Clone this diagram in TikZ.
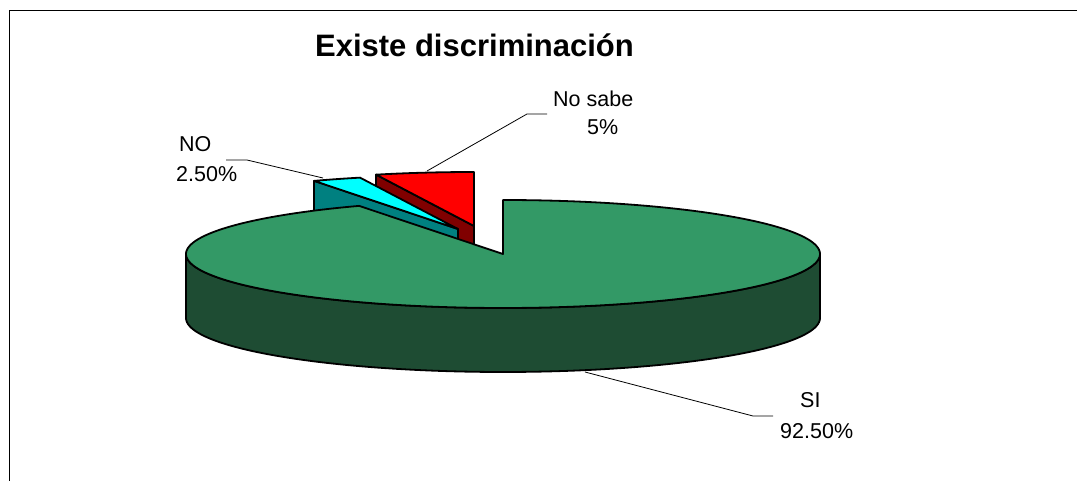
\documentclass[tikz,border=0pt]{standalone}
\usepackage{fontspec}
\setmainfont{Liberation Sans}
\definecolor{gtop}{RGB}{51,153,102}
\definecolor{gside}{RGB}{30,76,51}
\definecolor{nocyan}{RGB}{0,255,255}
\definecolor{noteal}{RGB}{0,128,128}
\definecolor{nsred}{RGB}{255,0,0}
\definecolor{nsdark}{RGB}{128,0,0}
\tikzset{
  face/.style={draw=black,line width=1.8pt,line join=round},
  leader/.style={draw=black,line width=0.8pt},
  lbl/.style={inner sep=0pt,anchor=base west,font=\fontsize{21.5}{24}\selectfont}
}
\begin{document}
\begin{tikzpicture}[x=1pt,y=-1pt]
\useasboundingbox (0,0) rectangle (1077,481);
% frame
\draw[line width=1.5pt] (9.5,481) -- (9.5,10.5) -- (1077,10.5);
% title
\node[inner sep=0pt,anchor=base,font=\bfseries\fontsize{31}{36}\selectfont] (title) at (474.5,57) {Existe discriminación};
% pie parameters
\def\cx{503}\def\cy{254}\def\rx{317}\def\ry{54}\def\dd{64}
% green front side
\path[face,fill=gside] plot[domain=180:360,samples=120] ({\cx+\rx*cos(\x)},{\cy-\ry*sin(\x)})
  -- plot[domain=360:180,samples=120] ({\cx+\rx*cos(\x)},{\cy+\dd-\ry*sin(\x)}) -- cycle;
% No sabe slice (exploded)
\def\bx{474}\def\by{226}
\path[face,fill=nsdark] (\bx,\by) -- ({\bx+\rx*cos(108)},{\by-\ry*sin(108)})
  -- ({\bx+\rx*cos(108)},{\by+\dd-\ry*sin(108)}) -- (\bx,\by+\dd) -- cycle;
\path[face,fill=nsred] (\bx,\by) -- plot[domain=90:108,samples=30] ({\bx+\rx*cos(\x)},{\by-\ry*sin(\x)}) -- cycle;
% NO slice (exploded)
\def\ax{458}\def\ay{229}
\path[face,fill=noteal] (\ax,\ay) -- ({\ax+\rx*cos(117)},{\ay-\ry*sin(117)})
  -- ({\ax+\rx*cos(117)},{\ay+\dd-\ry*sin(117)}) -- (\ax,\ay+\dd) -- cycle;
\path[face,fill=nocyan] (\ax,\ay) -- plot[domain=108:117,samples=20] ({\ax+\rx*cos(\x)},{\ay-\ry*sin(\x)}) -- cycle;
% green top (SI)
\path[face,fill=gtop] (\cx,\cy) -- plot[domain=117:450,samples=300] ({\cx+\rx*cos(\x)},{\cy-\ry*sin(\x)}) -- cycle;
% labels
\node[lbl] (no) at (179,152) {NO};
\node[lbl] (nop) at (176,182) {2.50\%};
\node[lbl] (ns) at (553,107) {No sabe};
\node[lbl] (nsp) at (587,135) {5\%};
\node[lbl] (si) at (800,407) {SI};
\node[lbl] (sip) at (780,438) {92.50\%};
% leader lines
\coordinate (noA) at (226,160); \coordinate (noB) at (247,160); \coordinate (noC) at (323,178);
\coordinate (nsA) at (547,114); \coordinate (nsB) at (527,114); \coordinate (nsC) at (427,171);
\coordinate (siA) at (773,416); \coordinate (siB) at (753,416); \coordinate (siC) at (585,372);
\draw[leader] (noA) -- (noB) -- (noC);
\draw[leader] (nsA) -- (nsB) -- (nsC);
\draw[leader] (siA) -- (siB) -- (siC);
\end{tikzpicture}
\end{document}
